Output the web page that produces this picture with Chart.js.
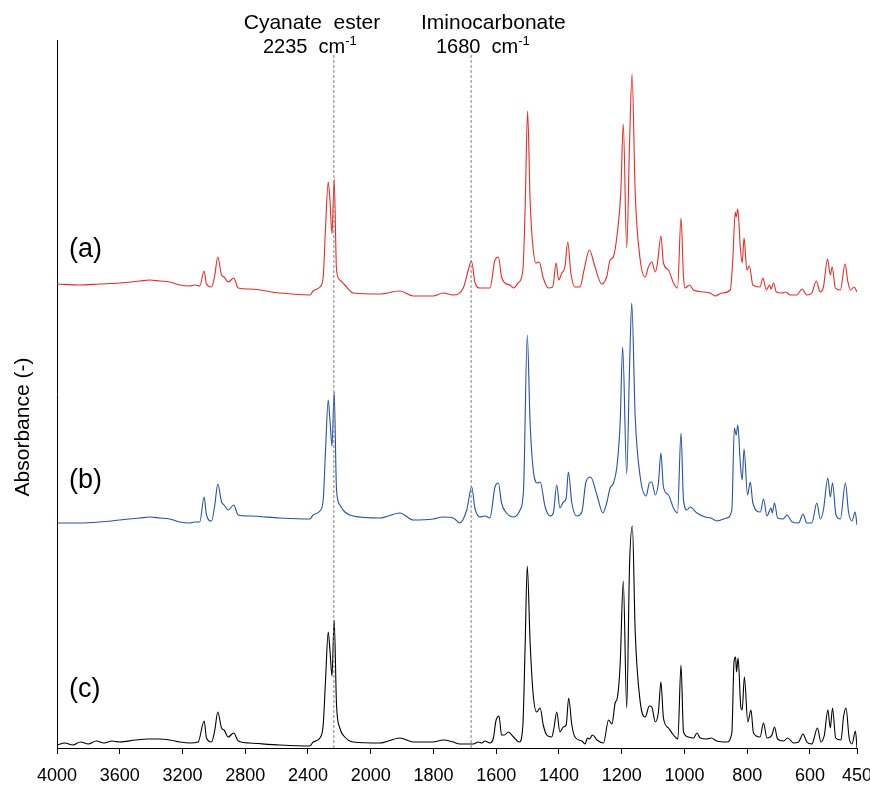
<!DOCTYPE html>
<html><head><meta charset="utf-8">
<script src="https://cdn.jsdelivr.net/npm/chart.js@4.4.0/dist/chart.umd.min.js"></script>
<style>html,body{margin:0;padding:0;background:#fff}#wrap{width:870px;height:788px}</style>
</head><body><div id="wrap"><canvas id="c" width="870" height="788"></canvas></div>
<script>
// x tick labels (wavenumber, cm-1)
const tickLabels = [4000,3600,3200,2800,2400,2000,1800,1600,1400,1200,1000,800,600,450];

// Spectrum (a)
const waveA = [4000,3855,3728,3600,3472,3409,3345,3281,3217,3153,3122,3090,3062,3047,3015,2994,2975,2951,2935,2909,2873,2845,2771,2579,2388,2367,2324,2303,2288,2271,2260,2247,2233,2218,2197,2165,2112,1971,1907,1864,1801,1769,1737,1705,1689,1679,1668,1652,1636,1620,1604,1593,1583,1572,1556,1545,1530,1515,1508,1500,1492,1484,1473,1463,1450,1434,1420,1409,1401,1391,1381,1372,1362,1349,1333,1320,1303,1285,1264,1248,1237,1227,1214,1203,1195,1184,1175,1167,1157,1141,1125,1115,1104,1093,1086,1075,1067,1051,1035,1022,1011,1003,998,984,971,939,918,902,881,854,846,838,835,830,822,816,810,801,793,782,759,750,739,729,724,716,707,689,677,663,642,625,610,594,580,567,557,544,535,529,519,503,488,480,471,459,450];
const absA = [4.64,4.63,4.64,4.65,4.67,4.68,4.67,4.66,4.63,4.62,4.63,4.62,4.77,4.64,4.61,4.73,4.91,4.73,4.71,4.66,4.70,4.60,4.59,4.55,4.53,4.57,4.61,4.71,5.21,5.66,5.48,5.14,5.69,4.78,4.68,4.63,4.55,4.54,4.57,4.52,4.52,4.55,4.53,4.60,4.78,4.87,4.66,4.60,4.60,4.60,4.88,4.91,4.71,4.65,4.63,4.60,4.65,4.78,5.38,6.37,5.48,5.05,4.85,4.86,4.70,4.60,4.61,4.85,4.68,4.75,4.81,5.06,4.75,4.61,4.61,4.78,4.98,4.81,4.64,4.71,4.88,4.91,5.15,5.55,6.24,5.00,6.05,6.74,5.55,4.88,4.71,4.81,4.86,4.76,4.85,5.12,4.85,4.78,4.65,4.60,5.30,4.71,4.60,4.63,4.58,4.56,4.55,4.52,4.55,4.58,4.88,5.36,5.31,5.39,5.01,4.85,5.10,4.78,4.82,4.63,4.61,4.70,4.58,4.63,4.59,4.65,4.56,4.55,4.56,4.53,4.53,4.59,4.53,4.55,4.67,4.56,4.61,4.89,4.73,4.81,4.60,4.58,4.84,4.68,4.58,4.61,4.56];

// Spectrum (b)
const waveB = [4000,3855,3728,3600,3472,3409,3345,3281,3217,3153,3122,3090,3062,3047,3015,2994,2975,2951,2935,2909,2873,2845,2771,2579,2388,2367,2324,2303,2288,2271,2260,2247,2233,2218,2197,2165,2112,1971,1907,1864,1801,1769,1737,1716,1694,1678,1668,1652,1636,1620,1604,1593,1583,1567,1545,1524,1513,1501,1492,1482,1469,1460,1444,1428,1418,1407,1397,1386,1377,1370,1359,1343,1327,1314,1299,1279,1260,1248,1237,1226,1214,1205,1197,1184,1175,1168,1157,1141,1122,1112,1104,1093,1083,1075,1067,1051,1035,1022,1011,1003,992,982,960,934,916,897,865,849,841,835,830,822,816,810,799,790,782,758,748,737,724,720,713,703,686,673,657,636,622,610,594,578,567,557,543,535,528,517,503,487,477,466,456,450];
const absB = [2.25,2.25,2.26,2.28,2.30,2.31,2.30,2.29,2.26,2.25,2.26,2.26,2.51,2.33,2.27,2.43,2.64,2.46,2.43,2.38,2.43,2.33,2.32,2.30,2.29,2.33,2.37,2.48,2.98,3.48,3.28,3.02,3.56,2.58,2.43,2.36,2.32,2.30,2.35,2.28,2.29,2.31,2.30,2.25,2.38,2.61,2.40,2.31,2.32,2.30,2.61,2.65,2.45,2.35,2.31,2.38,2.58,4.13,3.25,2.78,2.65,2.66,2.41,2.32,2.35,2.63,2.40,2.46,2.50,2.76,2.45,2.32,2.36,2.66,2.71,2.53,2.35,2.45,2.60,2.65,2.85,3.25,4.01,2.74,3.81,4.45,3.31,2.71,2.52,2.65,2.66,2.53,2.65,2.95,2.61,2.53,2.40,2.35,3.15,2.48,2.38,2.41,2.35,2.31,2.30,2.27,2.30,2.38,3.20,3.13,3.23,2.85,2.68,2.99,2.53,2.66,2.45,2.36,2.49,2.32,2.40,2.35,2.45,2.30,2.29,2.33,2.26,2.25,2.34,2.25,2.25,2.45,2.29,2.38,2.70,2.51,2.65,2.33,2.29,2.65,2.36,2.27,2.36,2.23];

// Spectrum (c)
const waveC = [4000,3950,3900,3850,3800,3750,3700,3650,3600,3500,3420,3350,3280,3217,3150,3100,3062,3047,3015,2994,2975,2951,2935,2909,2873,2845,2771,2579,2388,2367,2324,2303,2288,2271,2260,2247,2233,2218,2197,2165,2112,1971,1907,1864,1801,1769,1737,1716,1673,1657,1646,1636,1620,1609,1601,1591,1583,1574,1561,1545,1526,1515,1508,1501,1492,1482,1471,1460,1450,1439,1423,1416,1407,1397,1386,1377,1369,1359,1349,1327,1317,1309,1303,1293,1279,1258,1242,1231,1221,1214,1205,1195,1184,1175,1166,1157,1141,1125,1112,1104,1093,1083,1075,1067,1051,1035,1021,1011,1003,987,971,960,950,929,915,897,865,849,842,837,834,829,820,816,809,798,788,780,759,748,737,721,713,703,684,671,652,636,622,610,594,576,565,554,543,535,528,518,501,493,485,475,466,455,450];
const absC = [0.03,0.05,0.03,0.06,0.04,0.07,0.05,0.07,0.06,0.08,0.09,0.09,0.08,0.06,0.05,0.06,0.27,0.10,0.06,0.18,0.36,0.20,0.18,0.11,0.15,0.07,0.05,0.03,0.02,0.06,0.10,0.23,0.68,1.16,0.98,0.72,1.28,0.43,0.20,0.11,0.06,0.05,0.10,0.06,0.06,0.08,0.06,0.04,0.04,0.06,0.05,0.07,0.05,0.10,0.27,0.32,0.13,0.13,0.16,0.11,0.06,0.23,1.00,1.82,1.06,0.53,0.36,0.40,0.23,0.13,0.11,0.20,0.36,0.16,0.21,0.23,0.50,0.23,0.11,0.07,0.04,0.10,0.09,0.13,0.08,0.05,0.28,0.24,0.45,0.50,0.83,1.67,0.40,1.83,2.22,1.16,0.46,0.31,0.42,0.41,0.26,0.36,0.66,0.30,0.20,0.13,0.09,0.83,0.16,0.11,0.10,0.15,0.10,0.09,0.10,0.07,0.06,0.15,0.86,0.91,0.76,0.90,0.40,0.38,0.71,0.26,0.38,0.15,0.11,0.25,0.10,0.13,0.21,0.09,0.07,0.10,0.05,0.06,0.14,0.06,0.04,0.20,0.06,0.13,0.38,0.20,0.40,0.10,0.08,0.31,0.40,0.10,0.04,0.17,0.00];

// Marker lines (cm-1) and their top value
const markerWaves = [2235, 1680];
const markerTop = 6.93;

// Broken axis: 4000-2000 compressed 2x relative to 2000-450
function toU(w){ return w >= 2000 ? (4000 - w) / 2 : 1000 + (2000 - w); }
function pts(ws, vs){ return ws.map((w, i) => ({x: toU(w), y: vs[i]})); }

const FONT = "'Liberation Sans', Arial, sans-serif";

const textPlugin = {
  id: 'texts',
  afterDraw(chart){
    const ctx = chart.ctx;
    ctx.save();
    ctx.fillStyle = '#000';
    // y axis title
    ctx.save();
    ctx.translate(23, 427);
    ctx.rotate(-Math.PI/2);
    ctx.font = '21px ' + FONT;
    ctx.textAlign = 'center';
    ctx.textBaseline = 'middle';
    ctx.fillText('Absorbance (-)', 0, 0);
    ctx.restore();
    // annotations
    ctx.font = '21px ' + FONT;
    ctx.textBaseline = 'alphabetic';
    ctx.textAlign = 'center';
    ctx.fillText('Cyanate  ester', 312, 29);
    ctx.textAlign = 'left';
    ctx.fillText('Iminocarbonate', 421, 29);
    function wn(label, x, y){
      ctx.font = '20px ' + FONT;
      ctx.textAlign = 'left';
      ctx.fillText(label, x, y);
      const w = ctx.measureText(label).width;
      ctx.font = '13px ' + FONT;
      ctx.fillText('-1', x + w, y - 8);
    }
    wn('2235  cm', 263, 53);
    wn('1680  cm', 436, 53);
    // series labels
    ctx.font = '27px ' + FONT;
    ctx.textAlign = 'left';
    ctx.textBaseline = 'middle';
    ctx.fillText('(a)', 69, 250);
    ctx.fillText('(b)', 69, 481);
    ctx.fillText('(c)', 69, 690);
    ctx.restore();
  }
};

const markerSets = markerWaves.map(w => ({
  data: [{x: toU(w), y: 0}, {x: toU(w), y: markerTop}],
  borderColor: '#7f7f7f', borderWidth: 1, borderDash: [3, 2], pointRadius: 0, fill: false
}));

const lineStyle = {borderWidth: 1.1, pointRadius: 0, cubicInterpolationMode: 'monotone', fill: false};

new Chart(document.getElementById('c'), {
  type: 'line',
  data: {
    datasets: [
      ...markerSets,
      {label: '(a)', data: pts(waveA, absA), borderColor: '#ec2a24', ...lineStyle},
      {label: '(b)', data: pts(waveB, absB), borderColor: '#2452a8', ...lineStyle},
      {label: '(c)', data: pts(waveC, absC), borderColor: '#000000', ...lineStyle}
    ]
  },
  options: {
    responsive: false, animation: false, devicePixelRatio: 1,
    layout: {padding: {left: 0, right: 13, top: 40, bottom: 0}},
    plugins: {legend: {display: false}, tooltip: {enabled: false}},
    scales: {
      x: {
        type: 'linear', min: 0, max: toU(450),
        afterBuildTicks(s){ s.ticks = tickLabels.map(w => ({value: toU(w)})); },
        afterFit(s){ s.height = 40; s.paddingLeft = 0; s.paddingRight = 0; },
        ticks: {autoSkip: false, maxRotation: 0, padding: 11, color: '#000', font: {size: 18, family: FONT},
          callback: (v, i) => String(tickLabels[i])},
        grid: {display: true, drawOnChartArea: false, drawTicks: true, tickLength: 6, color: '#000'},
        border: {display: true, color: '#000', width: 1}
      },
      y: {
        min: 0, max: 7.08,
        afterFit(s){ s.width = 57; },
        ticks: {display: false},
        grid: {display: false},
        border: {display: true, color: '#000', width: 1}
      }
    }
  },
  plugins: [textPlugin]
});
</script>
</body></html>
